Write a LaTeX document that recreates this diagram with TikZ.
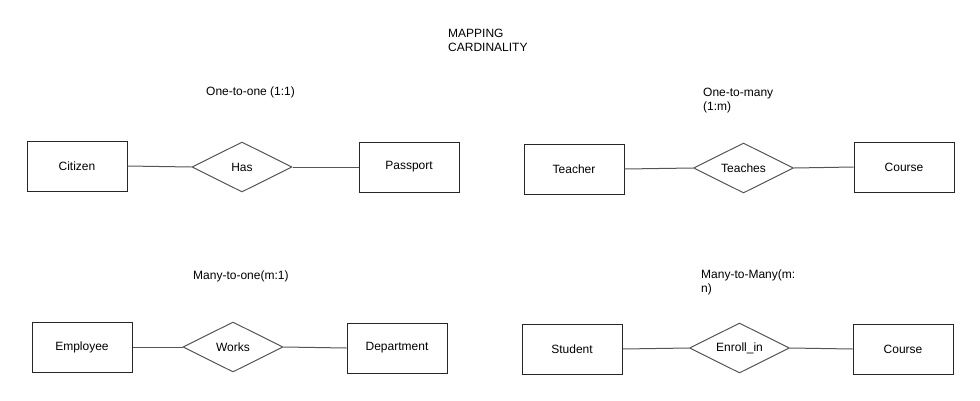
\documentclass[tikz,border=0pt]{standalone}
\usepackage{fontspec}
\setmainfont{Liberation Sans}
\usetikzlibrary{shapes.geometric}
\definecolor{edgegray}{HTML}{555555}
\begin{document}
\begin{tikzpicture}[x=1pt,y=-1pt,
  every node/.style={font=\fontsize{12}{14}\selectfont},
  entity/.style={draw=black!85, line width=1pt, rectangle, minimum width=100pt, minimum height=50pt, inner sep=0pt},
  relation/.style={draw=edgegray, line width=1pt, diamond, aspect=2, minimum width=100pt, minimum height=50pt, inner sep=0pt},
  link/.style={draw=edgegray, line width=1pt},
  label/.style={anchor=base west, inner sep=0pt, align=left}]
\useasboundingbox (0,0) rectangle (980,400);
% titles (base anchor = last line baseline)
\node[label] (title) at (448,51) {MAPPING\\CARDINALITY};
\node[label] (t1) at (206,95) {One-to-one (1:1)};
\node[label] (t2) at (703,110) {One-to-many\\(1:m)};
\node[label] (t3) at (193,279) {Many-to-one(m:1)};
\node[label] (t4) at (701,292) {Many-to-Many(m:\\n)};
% row 1 left
\node[entity] (citizen) at (77,166) {Citizen};
\node[relation] (has) at (242,167) {Has};
\node[entity] (passport) at (409,167) {Passport};
% row 1 right
\node[entity] (teacher) at (574,169) {Teacher};
\node[relation] (teaches) at (743.5,168) {Teaches};
\node[entity] (course1) at (904,167) {Course};
% row 2 left
\node[entity] (employee) at (82,347) {Employee};
\node[relation] (works) at (233,347) {Works};
\node[entity] (department) at (397,348) {Department};
% row 2 right
\node[entity] (student) at (572,349) {Student};
\node[relation] (enroll) at (739.5,348) {Enroll\_in};
\node[entity] (course2) at (903,349) {Course};
% connectors
\draw[link] (citizen.east) -- (has.west);
\draw[link] (has.east) -- (passport.west);
\draw[link] (teacher.east) -- (teaches.west);
\draw[link] (teaches.east) -- (course1.west);
\draw[link] (employee.east) -- (works.west);
\draw[link] (works.east) -- (department.west);
\draw[link] (student.east) -- (enroll.west);
\draw[link] (enroll.east) -- (course2.west);
\end{tikzpicture}
\end{document}
